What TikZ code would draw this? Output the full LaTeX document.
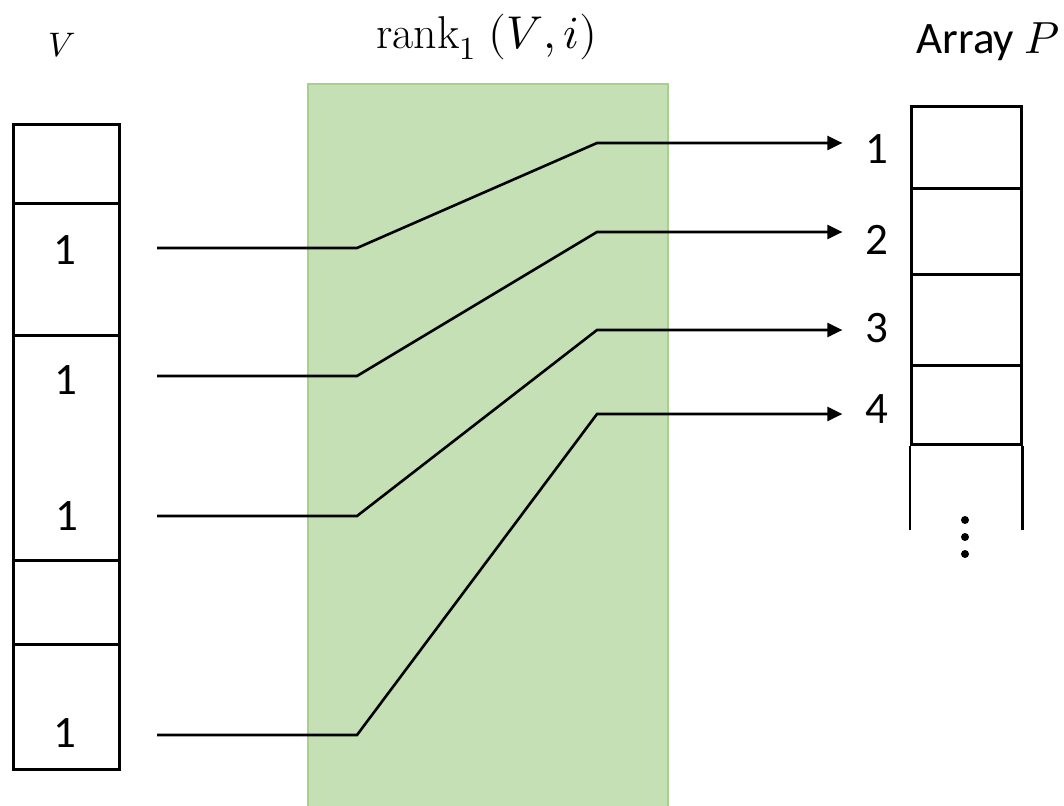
\documentclass[tikz,border=0pt]{standalone}
\usepackage{fontspec}
\usepackage{unicode-math}
\setmainfont{Carlito}
\setmathfont{Latin Modern Math}
\setmathrm{Latin Modern Roman}
\usetikzlibrary{arrows.meta}
\definecolor{boxgreen}{HTML}{C5E0B4}
\definecolor{boxgreenedge}{HTML}{A9D18E}
\begin{document}
\begin{tikzpicture}[x=1pt,y=-1pt,
  vcell/.style={draw=black, line width=2.8pt, minimum width=106pt, inner sep=0pt, anchor=north west},
  pcell/.style={draw=black, line width=2.8pt, minimum width=110pt, inner sep=0pt, anchor=north west},
  digit/.style={inner sep=0pt, font=\fontsize{45}{50}\selectfont},
  conn/.style={draw=black, line width=2.6pt, -{Triangle[length=15pt,width=14pt]}},
  dot/.style={fill=black}
]
\useasboundingbox (0,0) rectangle (1064,805);

% green rank box
\node[fill=boxgreen, draw=boxgreenedge, line width=2pt, minimum width=360pt, minimum height=730pt, anchor=north west, inner sep=0pt] (rankbox) at (307,83) {};

% titles
\node[inner sep=0pt, font=\fontsize{46}{52}\selectfont] (title) at (487,37) {$\mathrm{rank}_1\;(V,i)$};
\node[inner sep=0pt, font=\fontsize{34}{40}\selectfont] (vlabel) at (62,45) {$V$};
\node[inner sep=0pt, font=\fontsize{45}{50}\selectfont] (plabel) at (988,42) {Array $P$};

% V array
\node[vcell, minimum height=79pt]  (v1) at (12,123) {};
\node[vcell, minimum height=132pt] (v2) at (12,202) {};
\node[vcell, minimum height=225pt] (v3) at (12,334) {};
\node[vcell, minimum height=84pt]  (v4) at (12,559) {};
\node[vcell, minimum height=125pt] (v5) at (12,643) {};

\node[digit] (o1) at (65,250) {1};
\node[digit] (o2) at (66,380) {1};
\node[digit] (o3) at (67,516) {1};
\node[digit] (o4) at (65,733) {1};

% P array
\node[pcell, minimum height=82pt] (pc1) at (910,105) {};
\node[pcell, minimum height=86pt] (pc2) at (910,187) {};
\node[pcell, minimum height=91pt] (pc3) at (910,273) {};
\node[pcell, minimum height=79pt] (pc4) at (910,364) {};
\draw[line width=2.8pt] (pc4.south west) -- ++(0,84);
\draw[line width=2.8pt] (pc4.south east) -- ++(0,84);
\fill[dot] (965,520) circle (4pt);
\fill[dot] (965,537) circle (4pt);
\fill[dot] (965,554) circle (4pt);

% index labels
\node[digit] (n1) at (877,149) {1};
\node[digit] (n2) at (877,240) {2};
\node[digit] (n3) at (877,328) {3};
\node[digit] (n4) at (877,409) {4};

% connector points
\coordinate (s1) at (157,248); \coordinate (a1) at (357,248); \coordinate (b1) at (597,143);
\coordinate (s2) at (157,376); \coordinate (a2) at (357,376); \coordinate (b2) at (597,232);
\coordinate (s3) at (157,516); \coordinate (a3) at (357,516); \coordinate (b3) at (597,330);
\coordinate (s4) at (157,735); \coordinate (a4) at (357,735); \coordinate (b4) at (597,414);

\draw[conn] (s1) -- (a1) -- (b1) -- ([xshift=-23pt]n1.west |- b1);
\draw[conn] (s2) -- (a2) -- (b2) -- ([xshift=-23pt]n2.west |- b2);
\draw[conn] (s3) -- (a3) -- (b3) -- ([xshift=-23pt]n3.west |- b3);
\draw[conn] (s4) -- (a4) -- (b4) -- ([xshift=-23pt]n4.west |- b4);
\end{tikzpicture}
\end{document}
